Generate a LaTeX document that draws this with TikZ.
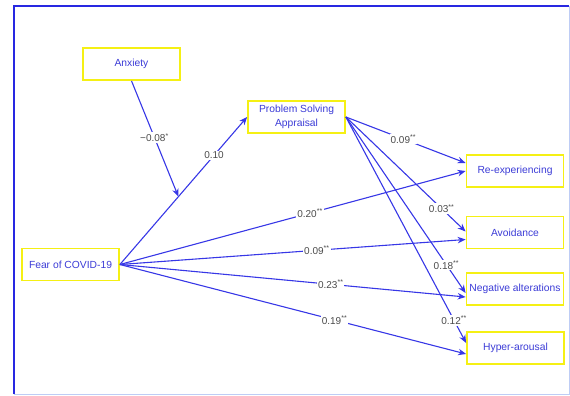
\documentclass[tikz,border=0pt]{standalone}
\usepackage{fontspec}
\setmainfont{Liberation Sans}
\usetikzlibrary{arrows.meta}
\definecolor{nodeblue}{RGB}{60,60,215}
\definecolor{edgeblue}{RGB}{55,55,230}
\definecolor{boxyellow}{RGB}{245,240,20}
\definecolor{labgray}{RGB}{75,75,75}
\definecolor{framedark}{RGB}{40,40,225}
\definecolor{framelight}{RGB}{190,205,245}
\begin{document}
\begin{tikzpicture}[x=1pt,y=-1pt,
  box/.style={draw=boxyellow, line width=1.8pt, fill=white, minimum width=97pt, minimum height=32pt,
    inner sep=0pt, text=nodeblue, font=\fontsize{10.3}{14}\selectfont, align=center},
  conn/.style={draw=edgeblue, line width=1.1pt, -{Stealth[length=8pt,width=6.5pt]}},
  lab/.style={fill=white, inner sep=1pt, text=labgray, font=\fontsize{10}{11}\selectfont}]
\useasboundingbox (0,0) rectangle (570,396);
% frame
\draw[framelight, line width=1pt] (14,394) -- (569,394) -- (569,6);
\draw[framedark, line width=2.4pt] (14,394) -- (14,6) -- (569,6);
% nodes
\node[box] (anx) at (131.5,64) {Anxiety};
\node[box] (psa) at (296.5,117) {Problem Solving\\Appraisal};
\node[box] (fear) at (70.5,264.5) {Fear of COVID-19};
\node[box] (reexp) at (515,171) {Re-experiencing};
\node[box] (avoid) at (515,232.5) {Avoidance};
\node[box] (neg) at (515,289) {Negative alterations};
\node[box] (hyper) at (515.5,348) {Hyper-arousal};
% fear -> psa
\draw[conn] (fear.east) -- (psa.west) coordinate[pos=0.46] (mid) node[lab,pos=0.74] {0.10};
\draw[conn] (anx.south) -- (mid) node[lab,pos=0.49] {−0.08\textsuperscript{*}};
% psa -> outcomes
\draw[conn] (psa.east) -- ([yshift=8pt]reexp.west) node[lab,pos=0.48] {0.09\textsuperscript{**}};
\draw[conn] (psa.east) -- ([yshift=1pt]avoid.west) node[lab,pos=0.8] {0.03\textsuperscript{**}};
\draw[conn] (psa.east) -- ([yshift=-4pt]neg.west) node[lab,pos=0.84] {0.18\textsuperscript{**}};
\draw[conn] (psa.east) -- ([yshift=5pt]hyper.west) node[lab,pos=0.9] {0.12\textsuperscript{**}};
% fear -> outcomes
\draw[conn] (fear.east) -- (reexp.west) node[lab,pos=0.55] {0.20\textsuperscript{**}};
\draw[conn] (fear.east) -- ([yshift=-7pt]avoid.west) node[lab,pos=0.57] {0.09\textsuperscript{**}};
\draw[conn] (fear.east) -- ([yshift=-8pt]neg.west) node[lab,pos=0.61] {0.23\textsuperscript{**}};
\draw[conn] (fear.east) -- ([yshift=-6pt]hyper.west) node[lab,pos=0.62] {0.19\textsuperscript{**}};
\end{tikzpicture}
\end{document}
